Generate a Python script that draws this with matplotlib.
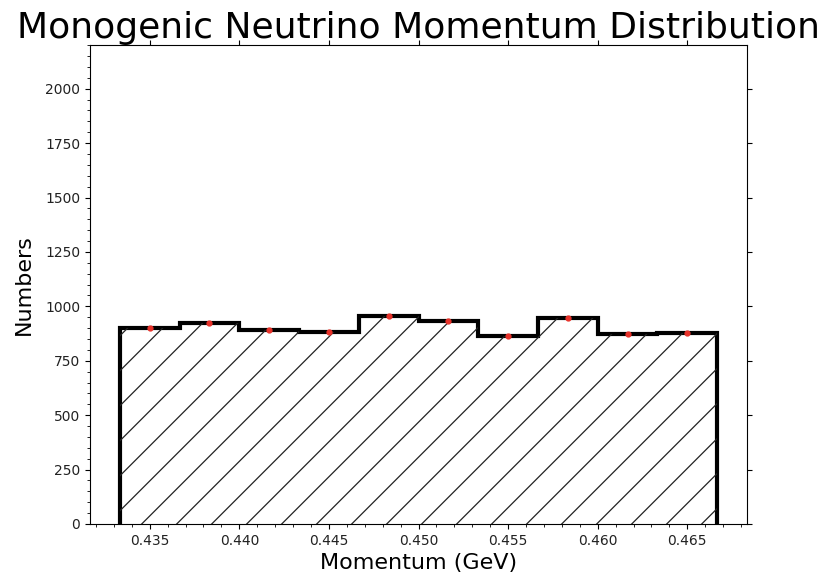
import numpy as np
import matplotlib
matplotlib.use("Agg")
import matplotlib.pyplot as plt
from matplotlib.ticker import AutoMinorLocator, MultipleLocator
from matplotlib.transforms import IdentityTransform

# momentum histogram, 10 bins across 0.45 +- 1/60 GeV
bin_edges = np.linspace(0.45 - 1 / 60, 0.45 + 1 / 60, 11)
counts = [900, 923, 891, 882, 955, 932, 863, 946, 875, 879]
x_ticks = [0.435, 0.440, 0.445, 0.450, 0.455, 0.460, 0.465]
y_ticks = [0, 250, 500, 750, 1000, 1250, 1500, 1750, 2000]

counts = np.array(counts)
centers = 0.5 * (bin_edges[:-1] + bin_edges[1:])

fig = plt.figure(figsize=(8.28, 5.79), dpi=100)
ax = fig.add_axes([0.1087, 0.095, 0.7935, 0.827])

ax.hist(centers, bins=bin_edges, weights=counts, histtype='step',
        color='black', linewidth=3)
ax.plot(centers, counts, 'o', color='#e8322a', markersize=3.5, zorder=3)

ax.set_ylim(0, 2200)
ax.set_xlim(bin_edges[0] - 0.05 * (bin_edges[-1] - bin_edges[0]),
            bin_edges[-1] + 0.05 * (bin_edges[-1] - bin_edges[0]))
ax.set_xticks(x_ticks)
ax.set_xticklabels([f'{t:.3f}' for t in x_ticks])
ax.set_yticks(y_ticks)
ax.xaxis.set_minor_locator(MultipleLocator(0.001))
ax.yaxis.set_minor_locator(AutoMinorLocator(5))
ax.tick_params(which='major', top=True, right=True, labelsize=10,
               labelcolor='#222222')

# sparse diagonal hatching, clipped to the area under the steps
fill = ax.fill_between(bin_edges, np.append(counts, counts[-1]), step='post',
                       facecolor='none', edgecolor='none')
clip_path = fill.get_paths()[0]
x0, y0 = ax.transData.transform((bin_edges[0], 0))
x1, y1 = ax.transData.transform((bin_edges[-1], counts.max()))
spacing = 35
start = 141.7 - 10 * spacing
for k in range(40):
    bx = start + k * spacing
    line = plt.Line2D([bx, bx + (y1 - y0) + 20], [y0, y1 + 20],
                      transform=IdentityTransform(), color='#222222',
                      linewidth=0.9)
    line.set_clip_path(clip_path, ax.transData)
    ax.add_artist(line)

ax.set_xlabel('Momentum (GeV)', fontsize=16)
ax.set_ylabel('Numbers', fontsize=16, labelpad=8)
ax.set_title('Monogenic Neutrino Momentum Distribution', fontsize=26, pad=5)

fig.savefig('out.png', dpi=100)
